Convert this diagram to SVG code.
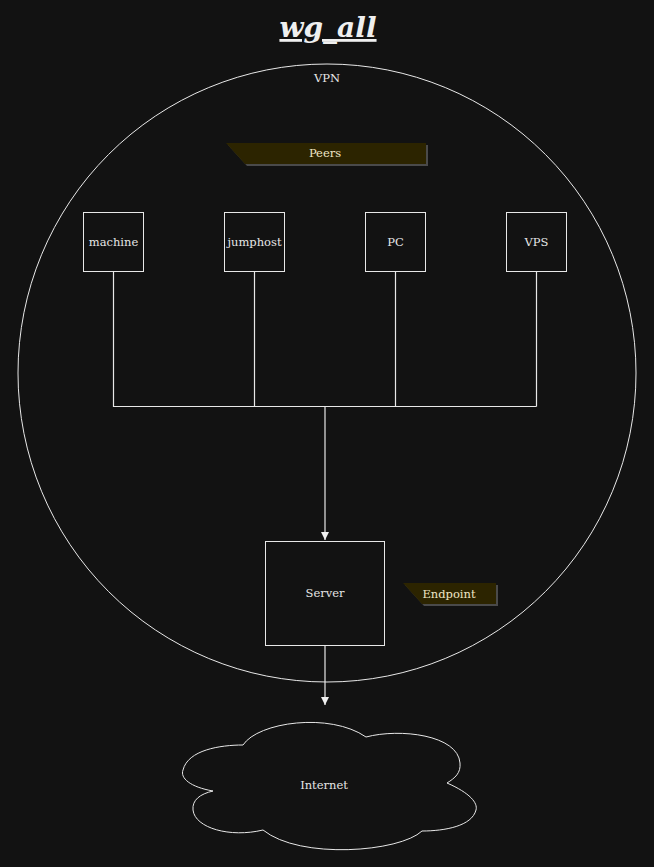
<svg xmlns="http://www.w3.org/2000/svg" width="654" height="867" viewBox="0 0 654 867">
<style>
text{font-family:"DejaVu Serif","Liberation Serif",serif;fill:#e6e6e6;font-size:11.5px;text-anchor:middle}
.box{fill:#121212;stroke:#e8e8e8;stroke-width:1}
.edge{fill:none;stroke:#e8e8e8;stroke-width:1.2}
.tag{fill:#2c2400}
.shadow{fill:#4a4a4a}
.tagtext{fill:#efe6c6;font-size:11.5px}
</style>
<defs>
<marker id="arr" viewBox="0 0 8 8" refX="8" refY="4" markerWidth="8" markerHeight="8" markerUnits="userSpaceOnUse" orient="auto">
<path d="M0,0 L8,4 L0,8 Z" fill="#f0f0f0"/>
</marker>
</defs>
<rect width="654" height="867" fill="#121212"/>
<text x="328" y="37" style="font-size:28px;font-weight:bold;font-style:italic;text-decoration:underline;fill:#efefef">wg_all</text>
<g id="vpn">
<circle cx="327" cy="373" r="309" fill="none" stroke="#e8e8e8" stroke-width="1"/>
<text x="327" y="82">VPN</text>
</g>
<g id="peers-tag">
<polygon class="shadow" points="228,145 428,145 428,166 247,166"/>
<polygon class="tag" points="226,143 426,143 426,164 245,164"/>
<text class="tagtext" x="325" y="157">Peers</text>
</g>
<g id="edges">
<path class="edge" d="M113.5,272 V406.5 H536.5 M254.5,272 V406.5 M395.5,272 V406.5 M536.5,272 V406.5"/>
<path class="edge" d="M325,406.5 V540" stroke-width="2" marker-end="url(#arr)"/>
<path class="edge" d="M325,646 V705" stroke-width="1.5" marker-end="url(#arr)"/>
</g>
<g id="machine"><rect class="box" x="83.5" y="212.5" width="60" height="59"/><text x="113.5" y="246">machine</text></g>
<g id="jumphost"><rect class="box" x="224.5" y="212.5" width="60" height="59"/><text x="254.5" y="246">jumphost</text></g>
<g id="pc"><rect class="box" x="365.5" y="212.5" width="60" height="59"/><text x="395.5" y="246">PC</text></g>
<g id="vps"><rect class="box" x="506.5" y="212.5" width="60" height="59"/><text x="536.5" y="246">VPS</text></g>
<g id="server"><rect class="box" x="265.5" y="541.5" width="119" height="104"/><text x="325" y="597">Server</text></g>
<g id="endpoint-tag">
<polygon class="shadow" points="405,585 498,585 498,606 424,606"/>
<polygon class="tag" points="403,583 496,583 496,604 422,604"/>
<text class="tagtext" x="449" y="598">Endpoint</text>
</g>
<g id="internet">
<path class="box" d="M243,745 C258,722 330,712 366,737 C400,728 458,735 460,763 C461,773 455,778 447,783 C470,793 478,803 476,810 C472,826 445,831 422,831 C400,852 300,860 263,830 C230,838 195,828 193,810 C192,800 200,794 213,791 C190,787 180,778 183,770 C188,750 220,745 243,745 Z"/>
<text x="324" y="789">Internet</text>
</g>
</svg>
